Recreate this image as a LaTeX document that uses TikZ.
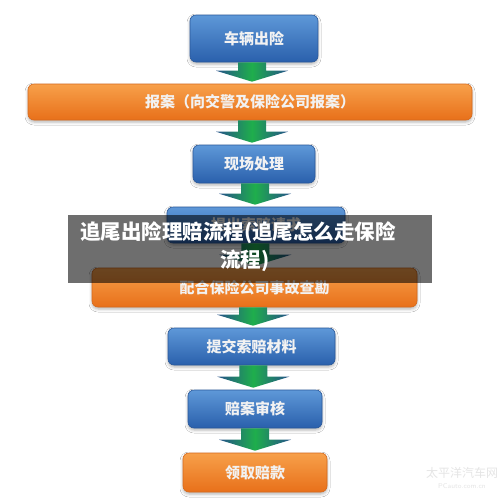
\documentclass[tikz,border=0pt]{standalone}
\usepackage{fontspec}
\newfontfamily\cjk{Noto Sans CJK SC}
\IfFontExistsTF{Noto Sans CJK SC Black}
  {\newfontfamily\cjkheavy{Noto Sans CJK SC Black}}
  {\newcommand\cjkheavy{\cjk\bfseries}}
\usetikzlibrary{calc,shadows.blur}
\definecolor{blueT}{HTML}{5E98D8}
\definecolor{blueB}{HTML}{2A60AC}
\definecolor{blueD}{HTML}{2A589A}
\definecolor{orT}{HTML}{F7A04A}
\definecolor{orB}{HTML}{E8701A}
\definecolor{orD}{HTML}{D56A1E}
\definecolor{arrG}{HTML}{1FAE4C}
\definecolor{arrE}{HTML}{25528A}
\definecolor{txtW}{HTML}{F2F2F2}
\newcommand\flowarrow[2]{%
  \path let \p1=(#1.south), \p2=(#2.north), \p3=($(#1.south)!0.5!(#2.north)$) in
    [arrowsty] ({\x3-14pt},{\y1}) -- ({\x3-14pt},{\y2+13pt}) -- ({\x3-36pt},{\y2+13pt})
    -- ({\x3},{\y2+2pt}) -- ({\x3+36pt},{\y2+13pt}) -- ({\x3+14pt},{\y2+13pt})
    -- ({\x3+14pt},{\y1}) -- cycle;}
\begin{document}
\begin{tikzpicture}[x=1pt,y=-1pt,
  boxbase/.style={rounded corners=6pt, line width=0.6pt, inner sep=0pt,
    text=txtW, font=\cjk\bfseries\fontsize{15}{15}\selectfont,
    blur shadow={shadow xshift=0pt, shadow yshift=-2pt, shadow blur radius=3pt, shadow opacity=30}},
  bluebox/.style={boxbase, top color=blueT, bottom color=blueB, draw=blueD},
  orbox/.style={boxbase, top color=orT, bottom color=orB, draw=orD},
  arrowsty/.style={left color=arrE, right color=arrE, middle color=arrG},
  banner/.style={fill=black, fill opacity=0.57, inner sep=0pt},
  bantext/.style={text=white, font=\cjkheavy\fontsize{20.5}{28}\selectfont, inner sep=0pt},
  mark1/.style={text=black!10, font=\cjk\fontsize{12}{12}\selectfont, inner sep=0pt},
  mark2/.style={text=black!10, font=\sffamily\fontsize{7}{7}\selectfont, inner sep=0pt}]
\fill[white] (0,0) rectangle (500,499);
\useasboundingbox (0,0) rectangle (500,499);
\node[bluebox, minimum width=128pt, minimum height=47pt] (n1) at (254,38.5) {车辆出险};
\node[orbox, minimum width=444pt, minimum height=36pt] (n2) at (250,102) {报案（向交警及保险公司报案）};
\node[bluebox, minimum width=122pt, minimum height=38pt] (n3) at (254,164) {现场处理};
\node[bluebox, minimum width=178pt, minimum height=36pt] (n4) at (256,225) {提出索赔请求};
\node[orbox, minimum width=325pt, minimum height=39pt] (n5) at (254.5,287.5) {配合保险公司事故查勘};
\node[bluebox, minimum width=167pt, minimum height=37pt] (n6) at (251.5,346.5) {提交索赔材料};
\node[bluebox, minimum width=134pt, minimum height=38pt] (n7) at (255,409) {赔案审核};
\node[orbox, minimum width=144pt, minimum height=39pt] (n8) at (255,472.5) {领取赔款};
\flowarrow{n1}{n2}
\flowarrow{n2}{n3}
\flowarrow{n3}{n4}
\flowarrow{n4}{n5}
\flowarrow{n5}{n6}
\flowarrow{n6}{n7}
\flowarrow{n7}{n8}
\node[banner, minimum width=364pt, minimum height=68pt] (ban) at (250,249) {};
\node[bantext] (t1) at (238,233) {追尾出险理赔流程(追尾怎么走保险};
\node[bantext] (t2) at (245,261) {流程)};
\node[mark1] (w1) at (462,473) {太平洋汽车网};
\node[mark2] (w2) at (462,486) {PCauto.com.cn};
\end{tikzpicture}
\end{document}
